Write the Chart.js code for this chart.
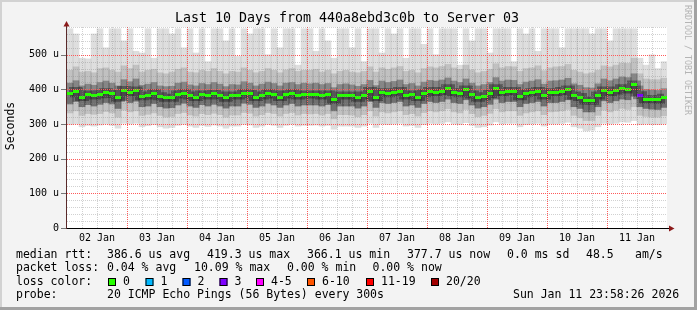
<!DOCTYPE html>
<html>
<head>
<meta charset="utf-8">
<script src="https://cdn.jsdelivr.net/npm/chart.js@4.4.1/dist/chart.umd.min.js"></script>
<style>
html, body { margin: 0; padding: 0; background: #f3f3f3; }
canvas { display: block; }
</style>
</head>
<body>
<canvas id="canvas" width="697" height="310"></canvas>
<script>
// 100 columns, 2.4 h each, starting 02 Jan 00:00 (values in microseconds)
var median = [389,395,378,385,382,386,392,387,376,398,
              392,397,380,382,389,380,376,376,385,389,
              382,378,385,382,387,382,376,382,382,389,
              387,378,382,389,385,378,385,389,382,385,
              385,385,382,385,370,382,382,382,376,382,
              395,378,392,389,392,395,382,385,378,389,
              395,392,395,403,392,389,400,385,376,380,
              387,403,392,395,395,380,389,392,395,382,
              392,392,395,400,382,378,368,367,382,397,
              392,397,403,400,414,383,371,372,370,376];

var maxV = [575,560,490,488,560,575,520,575,575,540,
            575,510,505,575,490,575,575,560,575,520,
            575,505,575,480,575,575,540,575,495,575,
            560,575,575,500,575,520,575,575,470,575,
            575,510,575,540,490,575,575,520,575,480,
            575,575,505,575,560,575,490,575,575,530,
            575,500,575,575,575,470,575,540,575,575,
            505,575,575,575,480,575,560,575,510,575,
            575,575,520,575,575,575,575,560,575,575,
            540,575,575,575,575,490,470,500,460,480];

var p90 = [455,465,450,452,448,460,462,455,450,468,
           460,470,450,455,458,448,445,450,458,462,
           450,448,455,452,460,452,445,452,450,462,
           455,448,452,460,455,448,456,460,452,455,
           455,458,450,455,445,452,455,450,448,452,
           465,450,462,458,462,466,452,455,448,460,
           465,462,466,472,462,458,470,456,448,452,
           458,474,462,466,465,452,460,462,468,454,
           462,465,466,472,455,450,445,448,455,468,
           465,470,476,475,490,445,430,428,428,432];

var p75 = [418,425,410,415,412,420,424,418,410,428,
           422,430,412,415,420,410,408,409,418,421,
           413,410,417,414,420,415,408,414,413,422,
           418,410,415,421,417,410,418,420,414,418,
           416,418,414,417,405,414,416,413,409,414,
           426,411,424,420,423,427,414,417,410,421,
           426,424,427,433,424,420,430,418,410,414,
           420,434,424,427,426,414,421,424,428,415,
           424,425,427,432,416,412,405,404,416,430,
           425,430,436,434,445,410,400,398,397,402];

var p25 = [358,365,350,356,352,357,362,358,345,368,
           362,366,350,352,359,350,346,347,355,360,
           352,348,356,352,357,352,346,352,352,360,
           357,348,352,360,355,348,355,359,352,355,
           355,355,352,356,338,352,352,352,346,352,
           365,348,362,359,362,365,352,355,348,359,
           365,362,365,372,362,359,370,355,346,350,
           357,372,362,365,365,350,359,362,365,352,
           362,362,365,370,350,345,335,335,350,367,
           362,367,372,370,380,350,345,343,342,348];

var p10 = [332,338,325,330,328,330,336,332,320,340,
           335,338,325,328,332,325,320,322,330,333,
           326,323,330,327,331,327,320,326,326,333,
           331,323,327,333,330,323,330,333,326,330,
           329,330,326,330,315,327,327,326,321,327,
           338,323,335,332,335,338,327,330,323,333,
           338,335,338,344,335,332,342,330,321,325,
           331,344,335,338,338,325,332,335,338,327,
           335,336,338,342,325,318,310,310,325,340,
           335,340,345,342,350,325,322,320,320,324];

var minV = [298,300,292,296,294,297,300,296,288,302,
            300,302,292,295,298,292,288,290,296,299,
            294,290,296,293,297,294,288,294,294,299,
            297,290,294,299,296,290,296,299,294,296,
            296,297,294,296,285,294,294,294,290,294,
            302,290,300,298,300,302,294,296,290,298,
            302,300,302,306,300,298,304,296,290,292,
            297,306,300,302,302,292,298,300,302,294,
            300,300,302,305,292,288,280,282,292,302,
            300,302,306,305,310,298,300,298,298,300];

// lost pings (of 20) per column
var loss = [0,0,0,0,0,0,0,0,0,0, 0,0,0,0,0,0,0,0,0,0,
            0,0,0,0,0,0,0,0,0,0, 0,0,0,0,0,0,0,0,0,0,
            0,0,0,0,0,0,0,0,0,0, 0,0,0,0,0,0,0,0,0,0,
            0,0,0,0,0,0,0,0,0,0, 0,0,0,0,0,0,0,0,0,0,
            0,0,0,0,0,0,0,0,0,0, 0,0,0,0,0,3,0,0,0,0];

var dayLabels = ['02 Jan','03 Jan','04 Jan','05 Jan','06 Jan','07 Jan','08 Jan','09 Jan','10 Jan','11 Jan'];
var yTickLabels = ['0','100 u','200 u','300 u','400 u','500 u'];

var lossNames = ['0','1','2','3','4-5','6-10','11-19','20/20'];
var lossColors = ['#26ff00','#00b8ff','#0059ff','#7e00ff','#ff00ff','#ff5500','#ff0000','#a10000'];

var cols = median.map(function(v, i){ return String(i); });

function pair(a, b) { return a.map(function(v, i){ return [v, b[i]]; }); }

function dash(color) {
  var c = document.createElement('canvas');
  c.width = 6; c.height = 3;
  var g = c.getContext('2d');
  g.fillStyle = color;
  g.fillRect(0, 0, 6, 3);
  return c;
}
var dashes = lossColors.map(dash);
function lossIndex(n) {
  if (n <= 3) return n;
  if (n <= 5) return 4;
  if (n <= 10) return 5;
  if (n <= 19) return 6;
  return 7;
}

var MONO = '"DejaVu Sans Mono", monospace';
var MAJOR = '#ff5a5a';
var MINOR = 'rgba(140,140,140,0.4)';

var frame = {
  id: 'frame',
  beforeDraw: function(chart) {
    var c = chart.ctx, a = chart.chartArea;
    c.save();
    c.fillStyle = '#f3f3f3';
    c.fillRect(0, 0, 697, 310);
    c.fillStyle = '#d2d2d2';
    c.fillRect(0, 0, 697, 2);
    c.fillRect(0, 0, 2, 310);
    c.fillStyle = '#a2a2a2';
    c.fillRect(0, 307, 697, 3);
    c.fillRect(694, 0, 3, 310);
    c.fillStyle = '#ffffff';
    c.fillRect(a.left, a.top, a.right - a.left, a.bottom - a.top);
    c.restore();
  },
  afterDatasetsDraw: function(chart) {
    // dotted grid on top of the smoke, from the scales' own tick lists
    var c = chart.ctx, a = chart.chartArea, xs = chart.scales.x2, ys = chart.scales.y;
    c.save();
    c.lineWidth = 1;
    c.setLineDash([1, 1]);
    xs.ticks.forEach(function(t){
      if (t.value <= 0 || t.value >= 240) return;
      var px = Math.round(xs.getPixelForValue(t.value)) + 0.5;
      c.strokeStyle = t.value % 24 === 0 ? MAJOR : MINOR;
      c.beginPath(); c.moveTo(px, a.top); c.lineTo(px, a.bottom); c.stroke();
    });
    ys.ticks.forEach(function(t){
      if (t.value <= 0) return;
      var py = Math.round(ys.getPixelForValue(t.value)) + 0.5;
      c.strokeStyle = t.value % 100 === 0 ? MAJOR : MINOR;
      c.beginPath(); c.moveTo(a.left, py); c.lineTo(a.right, py); c.stroke();
    });
    c.restore();
  },
  afterDraw: function(chart) {
    var c = chart.ctx, a = chart.chartArea, y = chart.scales.y;
    c.save();
    // major y ticks
    c.strokeStyle = '#777';
    c.lineWidth = 1;
    for (var k = 0; k < yTickLabels.length; k++) {
      var py = Math.round(y.getPixelForValue(k * 100)) + 0.5;
      c.beginPath(); c.moveTo(61, py); c.lineTo(a.left, py); c.stroke();
    }
    // axes
    c.strokeStyle = '#000';
    c.beginPath(); c.moveTo(a.left - 1, a.bottom + 0.5); c.lineTo(670, a.bottom + 0.5); c.stroke();
    c.strokeStyle = '#5a2a2a';
    c.beginPath(); c.moveTo(a.left - 0.5, a.bottom + 1); c.lineTo(a.left - 0.5, 24); c.stroke();
    c.fillStyle = '#8b1a1a';
    c.beginPath(); c.moveTo(a.left - 3.5, 26.5); c.lineTo(a.left + 2.5, 26.5); c.lineTo(a.left - 0.5, 21); c.closePath(); c.fill();
    c.beginPath(); c.moveTo(669, a.bottom - 2.5); c.lineTo(669, a.bottom + 3.5); c.lineTo(674.5, a.bottom + 0.5); c.closePath(); c.fill();

    // title
    c.fillStyle = '#000';
    c.font = '13.3px ' + MONO;
    c.textAlign = 'center';
    c.textBaseline = 'middle';
    c.fillText('Last 10 Days from 440a8ebd3c0b to Server 03', 347, 19);

    // y axis title
    c.font = '11.5px ' + MONO;
    c.save();
    c.translate(11, 126);
    c.rotate(-Math.PI / 2);
    c.fillText('Seconds', 0, 0);
    c.restore();

    // watermark
    c.save();
    c.fillStyle = '#b4b4b4';
    c.font = '8.3px ' + MONO;
    c.textAlign = 'left';
    c.translate(687.5, 5);
    c.rotate(Math.PI / 2);
    c.fillText('RRDTOOL / TOBI OETIKER', 0, 0);
    c.restore();

    // legend text
    c.textAlign = 'left';
    c.font = '11.5px ' + MONO;
    var lines = [
      [255, [[16,'median rtt:'],[107,'386.6 us avg'],[207,'419.3 us max'],[307,'366.1 us min'],[407,'377.7 us now'],[507,'0.0 ms sd'],[586,'48.5'],[635,'am/s']]],
      [268.5, [[16,'packet loss:'],[107,'0.04 % avg'],[194,'10.09 % max'],[287,'0.00 % min'],[372.5,'0.00 % now']]],
      [282, [[16,'loss color:']]],
      [295.5, [[16,'probe:'],[107,'20 ICMP Echo Pings (56 Bytes) every 300s'],[513,'Sun Jan 11 23:58:26 2026']]]
    ];
    lines.forEach(function(l){
      l[1].forEach(function(s){ c.fillText(s[1], s[0], l[0]); });
    });
    var boxX = [108, 145.5, 182.5, 219.5, 256, 307, 366, 431];
    lossNames.forEach(function(n, i){
      c.fillStyle = lossColors[i];
      c.fillRect(boxX[i], 278, 8, 8);
      c.strokeStyle = '#000';
      c.strokeRect(boxX[i] + 0.5, 278.5, 7, 7);
      c.fillStyle = '#000';
      c.fillText(n, boxX[i] + 15, 282);
    });
    c.restore();
  }
};

var ctx = document.getElementById('canvas').getContext('2d');

var SmokeGraph = new Chart(ctx, {
  type: 'bar',
  data: {
    labels: cols,
    datasets: [
      {
        type: 'line', label: 'median', data: median, order: 0,
        showLine: false, pointRadius: 3,
        pointStyle: function(c){ return dashes[lossIndex(loss[c.dataIndex] || 0)]; }
      },
      {
        type: 'line', label: 'core', data: median, order: 1,
        stepped: 'middle', borderWidth: 8, borderColor: 'rgba(0,0,0,0.35)', pointRadius: 0
      },
      { label: 'upper', data: pair(median, p75), backgroundColor: 'rgba(0,0,0,0.10)', order: 2 },
      { label: 'lower', data: pair(p25, median), backgroundColor: 'rgba(0,0,0,0.25)', order: 3 },
      { label: 'mid', data: pair(p25, p75), backgroundColor: 'rgba(0,0,0,0.22)', order: 4 },
      { label: 'wide', data: pair(p10, p90), backgroundColor: 'rgba(0,0,0,0.13)', order: 5 },
      { label: 'all', data: pair(minV, maxV), backgroundColor: 'rgba(0,0,0,0.13)', order: 6 }
    ]
  },
  options: {
    responsive: false,
    animation: false,
    devicePixelRatio: 1,
    layout: { padding: { left: 0, right: 30, top: 27, bottom: 0 } },
    datasets: {
      bar: { grouped: false, barPercentage: 1, categoryPercentage: 1, borderWidth: 0 }
    },
    plugins: { legend: { display: false }, tooltip: { enabled: false } },
    scales: {
      x: { type: 'category', display: false, offset: true },
      x2: {
        type: 'linear', position: 'bottom', min: 0, max: 240, z: 1,
        offset: false,
        afterFit: function(s){ s.height = 82; },
        border: { display: false },
        grid: { drawTicks: false, offset: false, color: 'rgba(0,0,0,0)' },
        ticks: {
          stepSize: 6, autoSkip: false, maxRotation: 0, padding: 4,
          color: '#000', font: { family: MONO, size: 10 },
          callback: function(v){ return v % 24 === 12 ? dayLabels[Math.floor(v / 24)] : ''; }
        }
      },
      y: {
        min: 0, max: 580, z: 1,
        afterFit: function(s){ s.width = 67; },
        border: { display: false },
        grid: { drawTicks: false, color: 'rgba(0,0,0,0)' },
        ticks: {
          stepSize: 20, autoSkip: false, padding: 8,
          color: '#000', font: { family: MONO, size: 10 },
          callback: function(v){ return v % 100 === 0 ? yTickLabels[v / 100] : ''; }
        }
      }
    }
  },
  plugins: [frame]
});
</script>
</body>
</html>
